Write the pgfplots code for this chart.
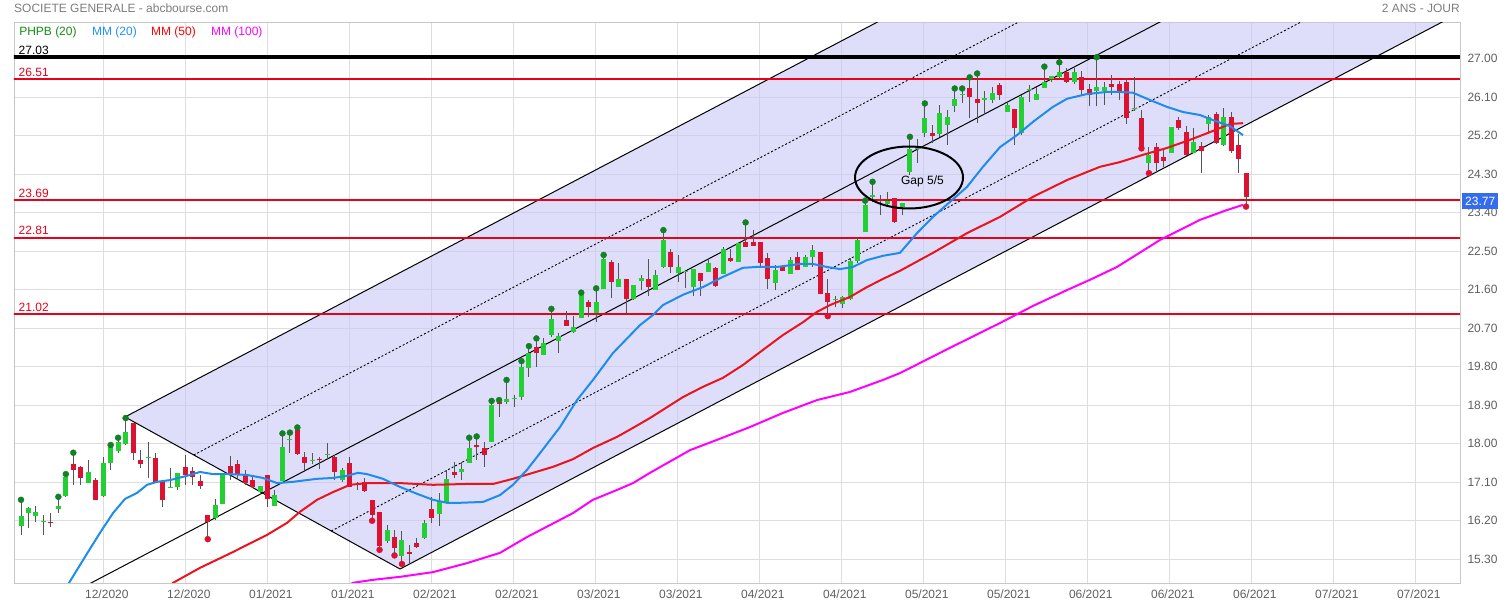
\documentclass[border=0pt]{standalone}
\usepackage{pgfplots}
\pgfplotsset{compat=1.18}
\usepackage{pgfplotstable}
\usepackage{fontspec}
\setmainfont{Liberation Sans}

\definecolor{upgreen}{RGB}{34,208,52}
\definecolor{dotgreen}{RGB}{18,128,36}
\definecolor{downred}{RGB}{220,18,50}
\definecolor{wickgray}{RGB}{85,85,85}
\definecolor{mmblue}{RGB}{30,140,235}
\definecolor{mmred}{RGB}{235,20,30}
\definecolor{mmpink}{RGB}{255,0,255}
\definecolor{lvlred}{RGB}{235,0,25}
\definecolor{chanfill}{RGB}{200,200,246}
\definecolor{labgray}{RGB}{95,95,95}
\definecolor{titgray}{RGB}{125,125,125}
\definecolor{lastblue}{RGB}{52,108,240}
\definecolor{legblue}{RGB}{30,144,255}
\definecolor{leggreen}{RGB}{20,140,20}

% daily candles: index, open, high, low, close, PHPB dot (1 = at high, -1 = at low)
\pgfplotstableread{
i o h l c d
0 16.08 16.69 15.87 16.30 1
1 16.39 16.51 16.04 16.49 0
2 16.30 16.55 16.16 16.41 0
3 16.17 16.34 15.87 16.19 0
4 16.17 16.37 16.06 16.15 0
5 16.48 16.76 16.37 16.55 1
6 16.78 17.29 16.76 17.22 1
7 17.52 17.79 17.04 17.39 1
8 17.46 17.48 17.04 17.19 0
9 17.08 17.62 17.08 17.35 0
10 17.15 17.19 16.69 16.69 0
11 16.79 17.70 16.76 17.54 0
12 17.54 17.97 17.39 17.92 1
13 17.84 18.14 17.78 18.03 1
14 17.99 18.60 17.97 18.28 1
15 18.49 18.49 17.62 17.78 0
16 17.62 17.85 17.43 17.52 0
17 17.66 18.05 17.19 17.68 0
18 17.66 17.78 17.08 17.09 0
19 17.11 17.11 16.51 16.69 0
20 16.98 17.43 16.96 17.00 0
21 17.00 17.31 16.92 17.31 0
22 17.46 17.74 17.04 17.27 0
23 17.37 17.46 17.04 17.22 0
24 17.13 17.27 16.94 17.02 0
25 16.34 16.34 15.77 16.16 -1
26 16.26 16.72 16.22 16.57 0
27 16.59 17.27 16.59 17.27 0
28 17.49 17.71 17.15 17.27 0
29 17.52 17.62 17.15 17.27 0
30 17.29 17.39 17.04 17.08 0
31 17.15 17.25 16.96 17.00 0
32 16.88 17.01 16.84 17.01 0
33 17.27 17.27 16.53 16.70 0
34 16.55 16.92 16.55 16.80 0
35 17.14 18.24 17.14 17.93 1
36 18.10 18.26 17.78 18.12 1
37 18.31 18.38 17.74 17.76 1
38 17.68 17.81 17.39 17.54 0
39 17.61 17.78 17.52 17.63 0
40 17.65 17.70 17.40 17.63 0
41 17.75 18.01 17.62 17.77 0
42 17.68 17.74 17.15 17.35 0
43 17.15 17.43 17.11 17.39 0
44 17.54 17.70 16.98 16.98 0
45 17.03 17.11 16.92 17.05 0
46 17.11 17.19 16.88 16.90 0
47 16.69 16.69 16.20 16.34 -1
48 16.41 16.41 15.52 15.62 -1
49 15.73 16.10 15.67 15.98 0
50 15.83 15.98 15.39 15.56 -1
51 15.38 15.95 15.19 15.75 -1
52 15.46 15.63 15.21 15.42 0
53 15.67 15.79 15.56 15.58 0
54 15.79 16.22 15.77 16.14 0
55 16.47 16.76 16.14 16.26 0
56 16.35 16.86 16.08 16.66 0
57 16.65 17.39 16.65 17.17 0
58 17.33 17.58 17.19 17.27 0
59 17.33 17.58 17.15 17.41 0
60 17.54 18.14 17.54 17.89 1
61 17.97 18.17 17.62 17.93 1
62 17.89 18.05 17.46 17.74 0
63 18.05 19.00 18.05 18.91 1
64 18.98 19.02 18.63 18.93 1
65 18.97 19.49 18.93 19.04 1
66 19.04 19.14 18.85 19.06 0
67 19.08 19.93 19.02 19.79 1
68 19.76 20.28 19.57 20.11 1
69 20.25 20.46 19.80 20.11 1
70 20.07 20.46 20.07 20.36 0
71 20.54 21.15 20.50 20.91 1
72 20.41 20.58 20.11 20.52 0
73 20.88 21.10 20.76 20.76 0
74 20.62 20.98 20.58 20.72 0
75 20.93 21.53 20.93 21.48 1
76 21.30 21.36 20.95 21.19 0
77 21.05 21.63 20.85 21.30 1
78 21.61 22.41 21.61 22.31 1
79 22.25 22.29 21.40 21.79 0
80 21.65 22.22 21.65 21.86 0
81 21.86 21.86 21.05 21.37 0
82 21.37 21.72 21.36 21.72 0
83 21.80 21.94 21.59 21.87 0
84 21.86 22.31 21.44 21.65 0
85 21.59 22.06 21.59 21.94 0
86 22.14 22.99 22.10 22.76 1
87 22.47 22.55 22.00 22.14 0
88 21.98 22.41 21.79 22.12 0
89 22.01 22.06 21.63 22.03 0
90 21.65 22.08 21.44 22.08 0
91 21.98 21.98 21.46 21.81 0
92 22.02 22.33 22.02 22.23 0
93 22.10 22.14 21.67 21.69 0
94 21.96 22.59 21.96 22.55 0
95 22.33 22.54 22.25 22.28 0
96 22.25 22.70 22.25 22.68 0
97 22.72 23.17 22.60 22.60 1
98 22.71 22.99 22.63 22.63 0
99 22.72 22.72 22.14 22.22 0
100 22.33 22.45 21.61 21.86 0
101 21.76 22.18 21.59 22.06 0
102 22.14 22.18 22.04 22.04 0
103 21.97 22.37 21.97 22.29 0
104 22.36 22.49 22.07 22.07 0
105 22.14 22.41 22.14 22.36 0
106 22.36 22.64 22.14 22.53 0
107 22.47 22.49 21.49 21.49 0
108 21.51 21.86 20.98 21.30 -1
109 21.36 21.45 21.20 21.38 0
110 21.26 21.44 21.16 21.42 0
111 21.37 22.33 21.36 22.28 0
112 22.28 22.80 22.22 22.76 0
113 22.94 23.68 22.94 23.58 1
114 23.77 24.12 23.64 23.81 1
115 23.71 23.81 23.34 23.66 0
116 23.59 23.89 23.54 23.66 0
117 23.73 23.73 23.15 23.17 0
118 23.54 23.63 23.34 23.62 0
119 24.36 25.17 24.28 24.88 1
120 24.89 25.13 24.57 24.91 0
121 25.27 25.95 25.16 25.60 1
122 25.25 25.45 25.02 25.20 0
123 25.24 25.91 25.17 25.72 0
124 25.45 25.80 24.98 25.64 0
125 25.90 26.30 25.74 26.05 1
126 26.16 26.30 25.95 26.18 1
127 26.30 26.56 25.60 26.11 1
128 26.05 26.65 25.49 25.95 1
129 26.04 26.23 25.68 26.07 0
130 26.03 26.34 25.95 26.20 0
131 26.38 26.42 26.03 26.15 0
132 25.76 25.95 25.76 25.91 0
133 25.81 25.81 24.99 25.37 0
134 25.27 26.15 25.21 26.09 0
135 26.26 26.38 25.99 26.28 0
136 26.03 26.34 26.03 26.17 0
137 26.32 26.81 26.32 26.46 1
138 26.51 26.59 26.46 26.59 0
139 26.56 26.91 26.51 26.69 1
140 26.69 26.77 26.42 26.46 0
141 26.44 26.77 26.40 26.69 0
142 26.56 26.71 26.12 26.27 0
143 26.28 26.40 25.88 26.15 0
144 26.25 27.03 25.88 26.34 1
145 26.25 26.46 25.91 26.33 0
146 26.40 26.62 26.15 26.33 0
147 26.40 26.48 26.03 26.25 0
148 26.46 26.53 25.48 25.60 0
149 25.83 26.56 25.78 25.85 0
150 25.60 25.80 24.90 24.90 -1
151 24.57 24.93 24.32 24.75 -1
152 24.94 25.03 24.33 24.55 0
153 24.69 24.86 24.46 24.61 0
154 24.80 25.39 24.79 25.39 0
155 25.56 25.63 25.33 25.37 0
156 25.29 25.42 24.72 24.75 0
157 24.80 25.37 24.79 25.06 0
158 24.96 25.06 24.33 24.85 0
159 25.46 25.68 25.29 25.64 0
160 25.70 25.76 25.00 25.02 0
161 24.98 25.84 24.96 25.63 0
162 25.63 25.74 24.80 24.85 0
163 24.98 25.24 24.33 24.65 0
164 24.33 24.33 23.54 23.77 -1
}\candles

\begin{document}
\begin{tikzpicture}[x=1pt,y=1pt,font=\fontsize{12}{14}\selectfont]
\begin{axis}[
  at={(14pt,24pt)}, anchor=south west,
  scale only axis, width=1446pt, height=560.3pt,
  xmin=-0.94, xmax=192.64, ymin=14.746, ymax=27.837,
  axis line style={draw=black!22},
  grid=major, major grid style={draw=black!13, line width=0.8pt},
  major tick length=0pt,
  xtick={11.02,22.00,32.97,43.95,54.93,65.91,76.88,87.86,98.84,109.81,120.79,131.77,142.74,153.72,164.70,175.68,186.65},
  xticklabels={12/2020,12/2020,01/2021,01/2021,02/2021,02/2021,03/2021,03/2021,04/2021,04/2021,05/2021,05/2021,06/2021,06/2021,06/2021,07/2021,07/2021},
  ytick={15.3,16.2,17.1,18.0,18.9,19.8,20.7,21.6,22.5,23.4,24.3,25.2,26.1,27.0},
  yticklabel pos=right,
  /pgf/number format/assume math mode=true,
  yticklabel style={/pgf/number format/fixed, /pgf/number format/fixed zerofill, /pgf/number format/precision=2, anchor=west, xshift=4pt},
  xticklabel style={xshift=3.5pt, yshift=-3.5pt},
  ticklabel style={text=labgray, font=\fontsize{12}{14}\selectfont},
]
% pitchfork channel
\addplot[draw=none, fill=chanfill, fill opacity=0.6] coordinates {(13.92,18.625) (50.74,15.073) (200.74,28.813) (163.92,32.365) (13.92,18.625)};
\addplot[black, line width=1pt] coordinates {(13.92,18.625) (50.74,15.073)};
\addplot[black, line width=1pt] coordinates {(13.92,18.625) (163.92,32.365)};
\addplot[black, line width=1pt] coordinates {(50.74,15.073) (200.74,28.813)};
\addplot[black, line width=1pt] coordinates {(0,13.888) (200,32.207)};
\addplot[black, line width=0.9pt, dash pattern=on 2pt off 2pt] coordinates {(23.125,17.737) (173.125,31.477)};
\addplot[black, line width=0.9pt, dash pattern=on 2pt off 2pt] coordinates {(41.535,15.961) (191.535,29.701)};

% levels
\addplot[black, line width=3.5pt] coordinates {(-2,27.03) (195,27.03)};
\addplot[lvlred, line width=2pt] coordinates {(-2,26.51) (195,26.51)};
\addplot[lvlred, line width=2pt] coordinates {(-2,23.69) (195,23.69)};
\addplot[lvlred, line width=2pt] coordinates {(-2,22.81) (195,22.81)};
\addplot[lvlred, line width=2pt] coordinates {(-2,21.02) (195,21.02)};

% candles: wicks, then up and down bodies
\addplot[draw=none, mark=none, error bars/.cd, y dir=plus, y explicit, error mark=none,
  error bar style={draw=wickgray, line width=1pt}]
  table[x=i, y=l, y error plus expr=\thisrow{h}-\thisrow{l}] {\candles};
\addplot[draw=none, mark=none, restrict expr to domain={\thisrow{c}-\thisrow{o}}{0:100},
  error bars/.cd, y dir=plus, y explicit, error mark=none,
  error bar style={draw=upgreen, line width=5pt}]
  table[x=i, y=o, y error plus expr=\thisrow{c}-\thisrow{o}] {\candles};
\addplot[draw=none, mark=none, restrict expr to domain={\thisrow{o}-\thisrow{c}}{0.0001:100},
  error bars/.cd, y dir=plus, y explicit, error mark=none,
  error bar style={draw=downred, line width=5pt}]
  table[x=i, y=c, y error plus expr=\thisrow{o}-\thisrow{c}] {\candles};

% moving averages
\addplot[mmpink, line width=2pt, line join=round] coordinates {(42.70,14.58) (44.44,14.75) (47.12,14.82) (50.74,14.89) (55.15,15.00) (59.71,15.21) (64.12,15.45) (67.74,15.82) (70.82,16.10) (73.90,16.38) (76.57,16.69) (79.79,16.92) (81.93,17.08) (84.20,17.32) (89.56,17.85) (93.17,18.09) (97.59,18.39) (102.01,18.72) (106.56,19.02) (110.98,19.21) (115.39,19.49) (117.67,19.65) (124.36,20.24) (131.06,20.82) (135.48,21.22) (140.03,21.59) (143.11,21.83) (146.72,22.13) (152.48,22.76) (157.83,23.23) (161.45,23.46) (163.59,23.58)};
\addplot[mmred, line width=2pt, line join=round] coordinates {(18.61,14.47) (20.35,14.75) (23.96,15.10) (28.38,15.47) (32.93,15.87) (35.61,16.15) (37.35,16.41) (39.63,16.69) (41.77,16.87) (44.04,17.04) (46.32,17.08) (50.74,17.08) (55.15,17.04) (59.71,17.06) (63.19,17.06) (65.86,17.18) (68.54,17.32) (71.22,17.46) (73.90,17.64) (76.57,17.90) (79.79,18.16) (81.93,18.37) (84.20,18.60) (88.62,19.09) (91.30,19.33) (93.98,19.54) (96.65,19.84) (98.93,20.14) (102.01,20.54) (104.69,20.84) (106.56,21.08) (108.30,21.24) (110.98,21.43) (113.25,21.66) (115.39,21.85) (117.67,22.04) (122.09,22.46) (126.64,22.92) (131.06,23.30) (135.48,23.77) (140.03,24.16) (144.44,24.47) (147.12,24.58) (150.20,24.75) (153.41,24.91) (156.49,25.10) (159.17,25.28) (161.85,25.47) (163.59,25.49)};
\addplot[mmblue, line width=2pt, line join=round] coordinates {(5.22,14.12) (6.43,14.75) (8.97,15.47) (10.58,15.92) (12.32,16.38) (13.92,16.71) (15.53,16.85) (16.87,17.04) (18.21,17.11) (19.95,17.15) (22.22,17.25) (23.96,17.34) (25.70,17.29) (27.98,17.29) (30.25,17.27) (32.40,17.20) (34.27,17.08) (36.41,17.11) (39.63,17.18) (41.77,17.20) (43.64,17.25) (45.11,17.32) (46.32,17.29) (48.46,17.18) (50.74,16.99) (53.01,16.83) (55.15,16.69) (57.03,16.62) (58.77,16.62) (61.85,16.64) (64.12,16.80) (65.86,17.04) (67.74,17.39) (69.48,17.78) (72.16,18.39) (74.43,19.02) (76.57,19.49) (79.25,20.12) (82.86,20.77) (84.61,21.01) (85.94,21.24) (88.62,21.48) (91.30,21.66) (93.98,21.90) (96.65,22.11) (98.53,22.13) (101.20,22.13) (104.28,22.20) (106.02,22.20) (107.90,22.13) (109.64,22.08) (111.38,22.13) (113.25,22.29) (115.39,22.39) (117.67,22.46) (119.95,22.92) (122.09,23.30) (124.36,23.65) (126.64,24.00) (128.78,24.47) (131.06,24.93) (133.33,25.21) (135.48,25.52) (138.15,25.87) (140.03,26.06) (142.70,26.17) (145.38,26.22) (147.12,26.22) (148.86,26.20) (151.14,26.03) (153.41,25.87) (155.56,25.75) (157.83,25.68) (159.57,25.56) (161.85,25.42) (163.59,25.21)};

% PHPB (20) dots
\addplot[only marks, mark=*, mark size=3pt, color=dotgreen, restrict expr to domain={\thisrow{d}}{0.5:2}] table[x=i, y=h] {\candles};
\addplot[only marks, mark=*, mark size=3pt, color=downred, restrict expr to domain={\thisrow{d}}{-2:-0.5}] table[x=i, y=l] {\candles};

% gap annotation
\draw[black, line width=2pt] (axis cs:118.88,24.22) ellipse [x radius=54pt, y radius=31pt];
\node[font=\fontsize{12}{14}\selectfont] at (axis cs:120.68,24.12) {Gap 5/5};

% level labels
\node[anchor=base west, inner sep=0pt, xshift=4.5pt, yshift=3pt] at (axis cs:-0.94,27.03) {27.03};
\node[anchor=base west, inner sep=0pt, xshift=4.5pt, yshift=3pt, text=lvlred] at (axis cs:-0.94,26.51) {26.51};
\node[anchor=base west, inner sep=0pt, xshift=4.5pt, yshift=3pt, text=lvlred] at (axis cs:-0.94,23.69) {23.69};
\node[anchor=base west, inner sep=0pt, xshift=4.5pt, yshift=3pt, text=lvlred] at (axis cs:-0.94,22.81) {22.81};
\node[anchor=base west, inner sep=0pt, xshift=4.5pt, yshift=3pt, text=lvlred] at (axis cs:-0.94,21.02) {21.02};

% legend row
\node[anchor=base west, inner sep=0pt, text=leggreen] at (rel axis cs:0.0035,0.978) {PHPB (20)};
\node[anchor=base west, inner sep=0pt, text=legblue] at (rel axis cs:0.0539,0.978) {MM (20)};
\node[anchor=base west, inner sep=0pt, text=red] at (rel axis cs:0.0947,0.978) {MM (50)};
\node[anchor=base west, inner sep=0pt, text=mmpink] at (rel axis cs:0.1362,0.978) {MM (100)};
\end{axis}

% header and last price
\node[anchor=base west, inner sep=0pt, text=titgray] at (14,594.3) {SOCIETE GENERALE - abcbourse.com};
\node[anchor=base east, inner sep=0pt, text=titgray] at (1460,594.3) {2 ANS - JOUR};
\node[anchor=west, fill=lastblue, text=white, inner xsep=3pt, inner ysep=0pt, minimum height=16pt] at (1462,406) {23.77};
\pgfresetboundingbox
\path[use as bounding box] (0,0) rectangle (1509,607);
\end{tikzpicture}
\end{document}
